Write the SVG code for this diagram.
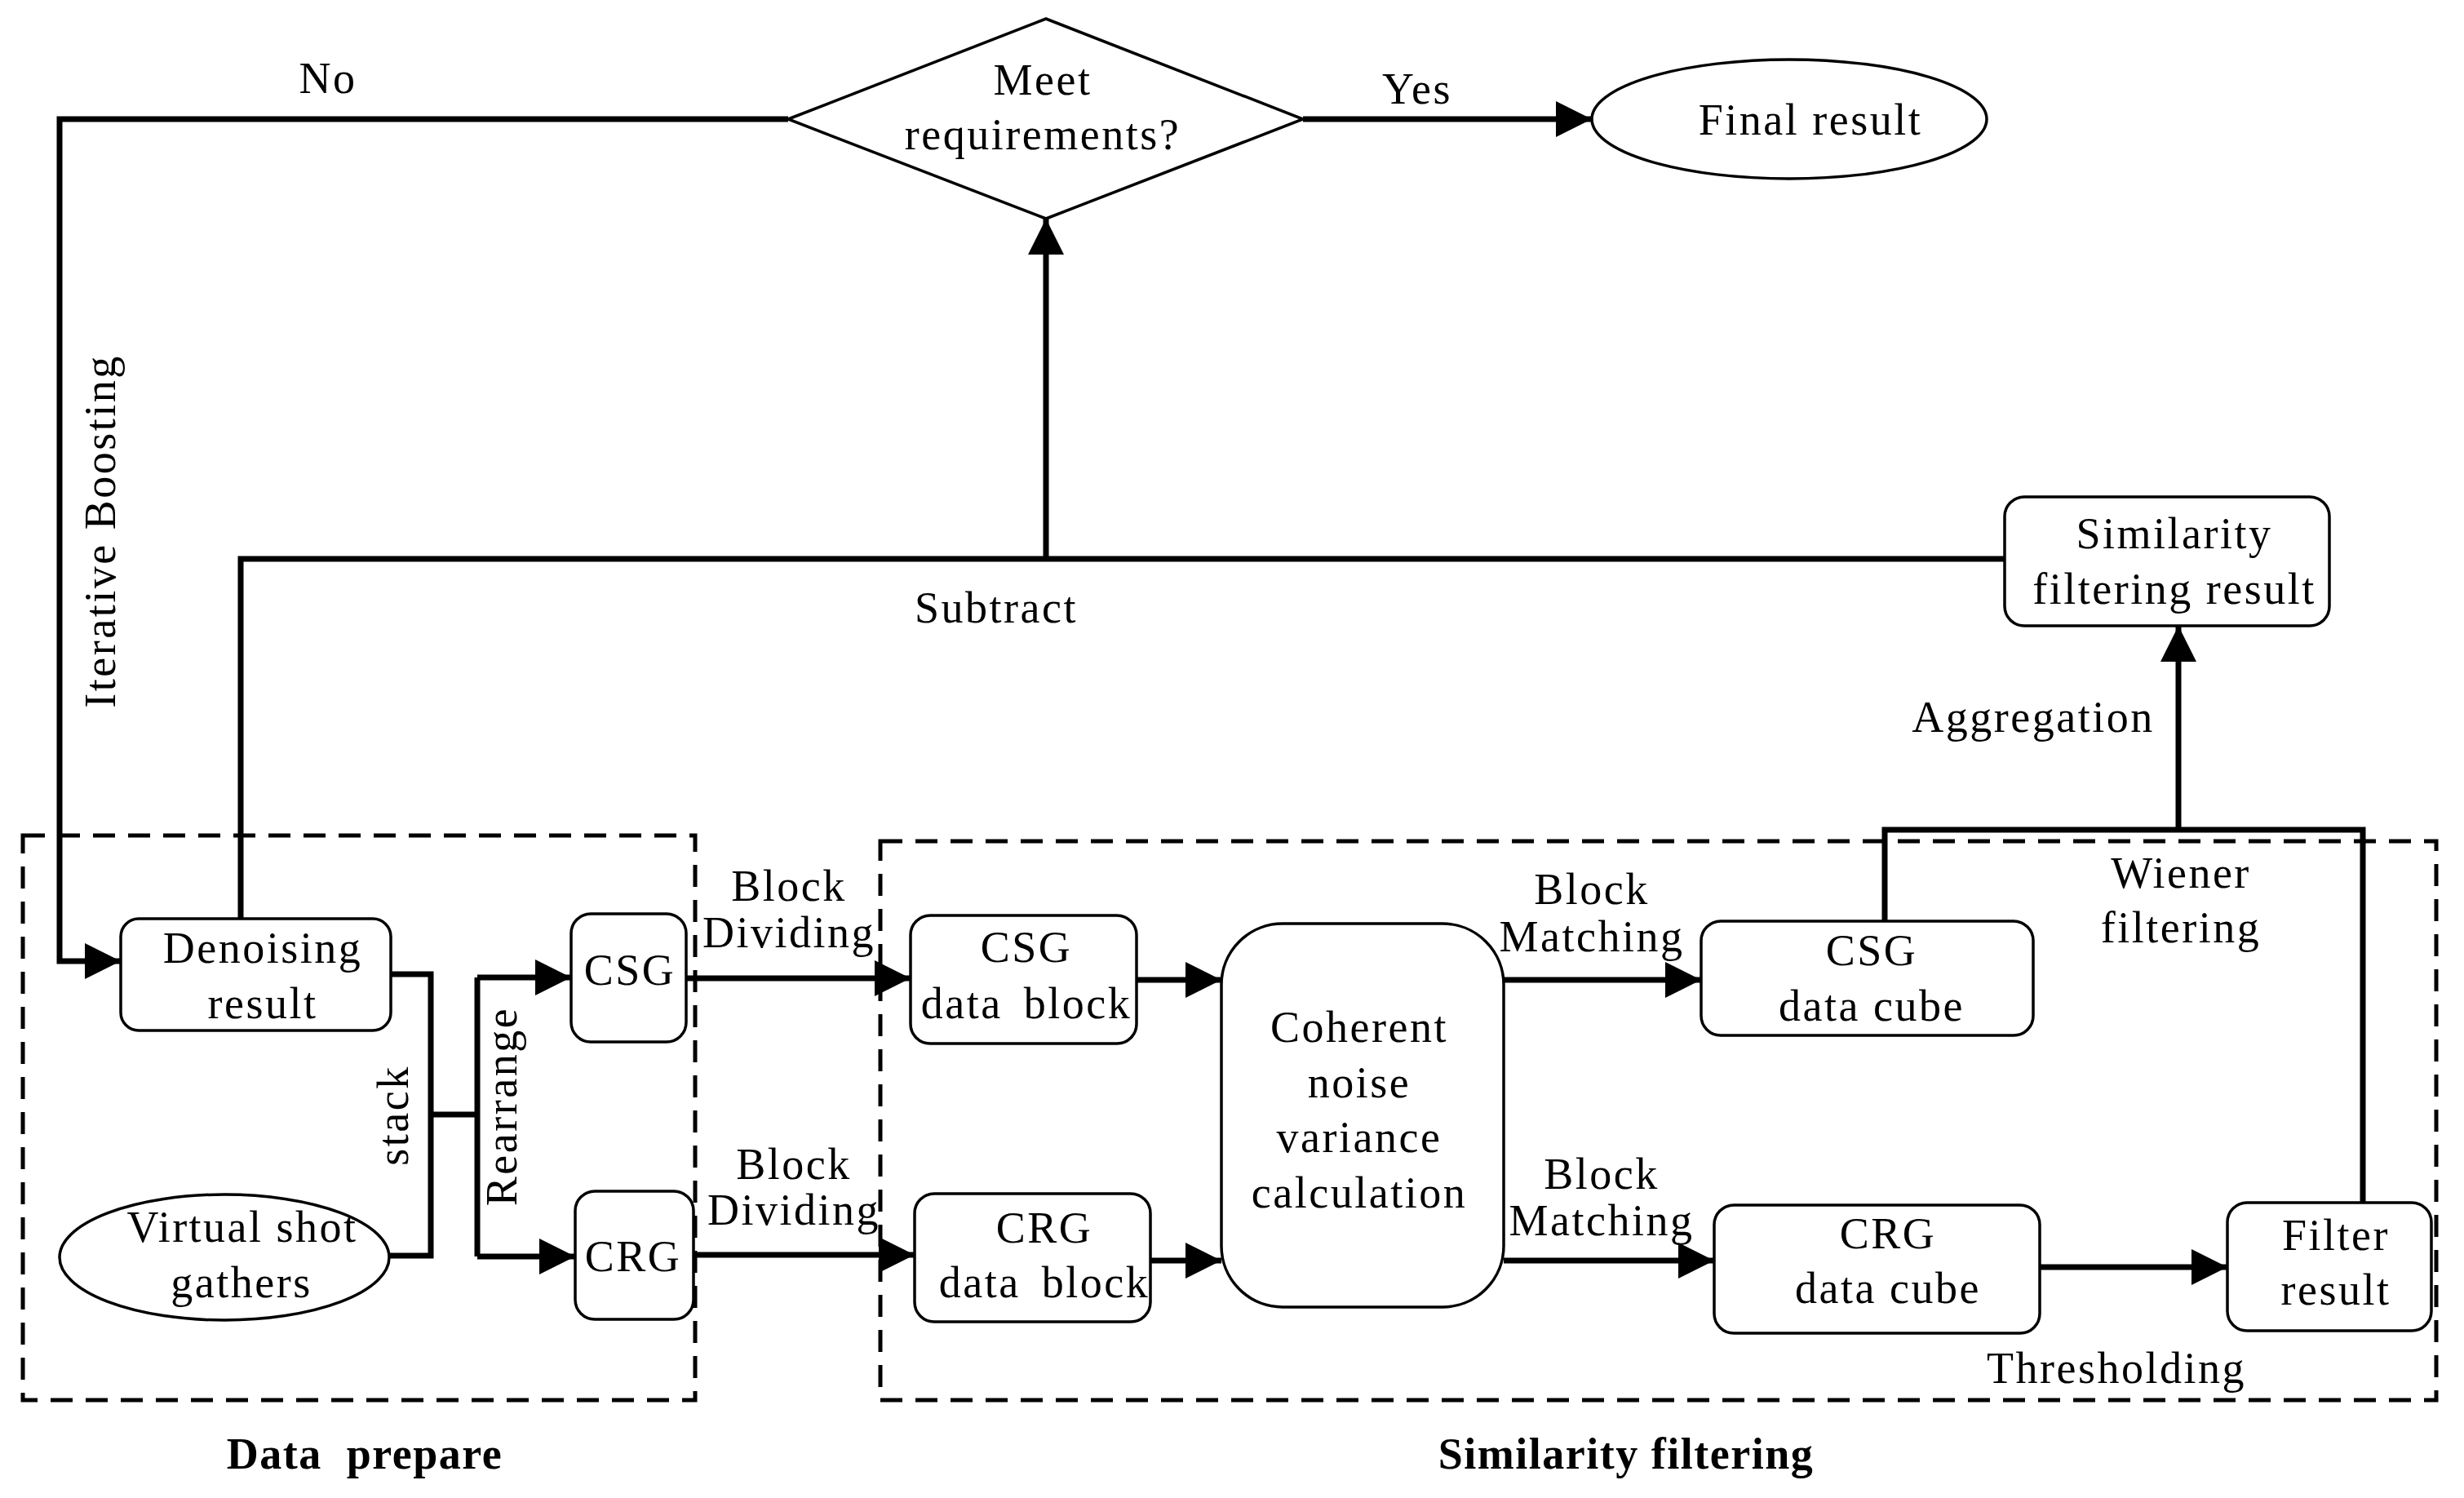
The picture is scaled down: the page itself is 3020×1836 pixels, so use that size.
<svg xmlns="http://www.w3.org/2000/svg" width="3020" height="1836" viewBox="0 0 3020 1836">
<style>
.t{font-family:"Liberation Serif","Times New Roman",serif;font-size:54px;letter-spacing:2.5px;fill:#000;text-anchor:middle}
.b{font-family:"Liberation Serif","Times New Roman",serif;font-size:54px;font-weight:bold;letter-spacing:1.5px;fill:#000;text-anchor:middle;white-space:pre}
.box{fill:#fff;stroke:#000;stroke-width:3.5}
.c{fill:none;stroke:#000;stroke-width:7}
.dash{fill:none;stroke:#000;stroke-width:5;stroke-dasharray:27 16}
</style>
<defs>
<marker id="ah" markerUnits="userSpaceOnUse" markerWidth="46" markerHeight="44" refX="44" refY="22" orient="auto">
<path d="M0,0 L44,22 L0,44 Z" fill="#000"/>
</marker>
</defs>
<rect width="3020" height="1836" fill="#fff"/>

<g id="groups">
<rect class="dash" x="28" y="1024" width="824" height="692"/>
<rect class="dash" x="1079" y="1031" width="1907" height="685"/>
<text class="b" x="447" y="1800">Data  prepare</text>
<text class="b" x="1993" y="1800">Similarity filtering</text>
</g>

<g id="connectors">
<path class="c" d="M966,146 H73 V1178 H148" marker-end="url(#ah)"/>
<path class="c" d="M1597,146 H1951" marker-end="url(#ah)"/>
<path class="c" d="M295,1126 V685 H2457"/>
<path class="c" d="M1282,685 V268" marker-end="url(#ah)"/>
<path class="c" d="M2310,1129 V1017 H2896 V1474"/>
<path class="c" d="M2670,1017 V767" stroke-width="6" marker-end="url(#ah)"/>
<path class="c" d="M479,1194 H528 V1539 H477" stroke-width="6.5"/>
<path class="c" d="M528,1366 H585" stroke-width="6.5"/>
<path class="c" d="M585,1198 V1540" stroke-width="6.5"/>
<path class="c" d="M585,1198 H700" marker-end="url(#ah)"/>
<path class="c" d="M585,1540 H705" marker-end="url(#ah)"/>
<path class="c" d="M841,1199 H1116" marker-end="url(#ah)"/>
<path class="c" d="M850,1538 H1121" marker-end="url(#ah)"/>
<path class="c" d="M1393,1201 H1497" marker-end="url(#ah)"/>
<path class="c" d="M1410,1545 H1497" marker-end="url(#ah)"/>
<path class="c" d="M1843,1201 H2085" marker-end="url(#ah)"/>
<path class="c" d="M1843,1545 H2101" marker-end="url(#ah)"/>
<path class="c" d="M2500,1553 H2730" marker-end="url(#ah)"/>
<text class="t" x="402" y="114">No</text>
<text class="t" x="1737" y="127">Yes</text>
<text class="t" x="1221" y="763">Subtract</text>
<text class="t" transform="translate(141,651) rotate(-90)">Iterative Boosting</text>
<text class="t" x="2492" y="897">Aggregation</text>
<text class="t" transform="translate(500,1367) rotate(-90)">stack</text>
<text class="t" transform="translate(633,1356) rotate(-90)">Rearrange</text>
<text class="t" x="967" y="1104">Block</text>
<text class="t" x="967" y="1161">Dividing</text>
<text class="t" x="973" y="1445">Block</text>
<text class="t" x="973" y="1501">Dividing</text>
<text class="t" x="1951" y="1108">Block</text>
<text class="t" x="1951" y="1166">Matching</text>
<text class="t" x="1963" y="1457">Block</text>
<text class="t" x="1963" y="1514">Matching</text>
<text class="t" x="2673" y="1088">Wiener</text>
<text class="t" x="2673" y="1155">filtering</text>
<text class="t" x="2594" y="1695">Thresholding</text>
</g>

<g id="meet">
<polygon class="box" points="966,146 1282,23 1597,146 1282,268"/>
<text class="t" x="1278" y="116">Meet</text>
<text class="t" x="1278" y="183">requirements?</text>
</g>
<g id="final">
<ellipse class="box" cx="2193" cy="146" rx="242" ry="73"/>
<text class="t" x="2219" y="165">Final result</text>
</g>
<g id="simresult">
<rect class="box" x="2457" y="609" width="398" height="158" rx="24"/>
<text class="t" x="2665" y="672">Similarity</text>
<text class="t" x="2665" y="740">filtering result</text>
</g>
<g id="denoising">
<rect class="box" x="148" y="1126" width="331" height="137" rx="22"/>
<text class="t" x="322" y="1180">Denoising</text>
<text class="t" x="322" y="1248">result</text>
</g>
<g id="virtual">
<ellipse class="box" cx="275" cy="1541" rx="202" ry="77"/>
<text class="t" x="297" y="1522">Virtual shot</text>
<text class="t" x="296" y="1590">gathers</text>
</g>
<g id="csg">
<rect class="box" x="700" y="1120" width="141" height="157" rx="24"/>
<text class="t" x="772" y="1207">CSG</text>
</g>
<g id="crg">
<rect class="box" x="705" y="1460" width="145" height="157" rx="24"/>
<text class="t" x="776" y="1558">CRG</text>
</g>
<g id="csgblock">
<rect class="box" x="1116" y="1122" width="277" height="157" rx="24"/>
<text class="t" x="1258" y="1179">CSG</text>
<text class="t" x="1258" y="1248" style="word-spacing:10px">data block</text>
</g>
<g id="crgblock">
<rect class="box" x="1121" y="1463" width="289" height="157" rx="24"/>
<text class="t" x="1280" y="1523">CRG</text>
<text class="t" x="1280" y="1590" style="word-spacing:10px">data block</text>
</g>
<g id="coherent">
<rect class="box" x="1497" y="1132" width="346" height="470" rx="75"/>
<text class="t" x="1666" y="1277">Coherent</text>
<text class="t" x="1666" y="1345">noise</text>
<text class="t" x="1666" y="1412">variance</text>
<text class="t" x="1666" y="1480">calculation</text>
</g>
<g id="csgcube">
<rect class="box" x="2085" y="1129" width="407" height="140" rx="24"/>
<text class="t" x="2294" y="1183">CSG</text>
<text class="t" x="2294" y="1251">data cube</text>
</g>
<g id="crgcube">
<rect class="box" x="2101" y="1477" width="399" height="157" rx="24"/>
<text class="t" x="2314" y="1530">CRG</text>
<text class="t" x="2314" y="1597">data cube</text>
</g>
<g id="filter">
<rect class="box" x="2730" y="1474" width="250" height="157" rx="24"/>
<text class="t" x="2863" y="1532">Filter</text>
<text class="t" x="2863" y="1599">result</text>
</g>
</svg>
